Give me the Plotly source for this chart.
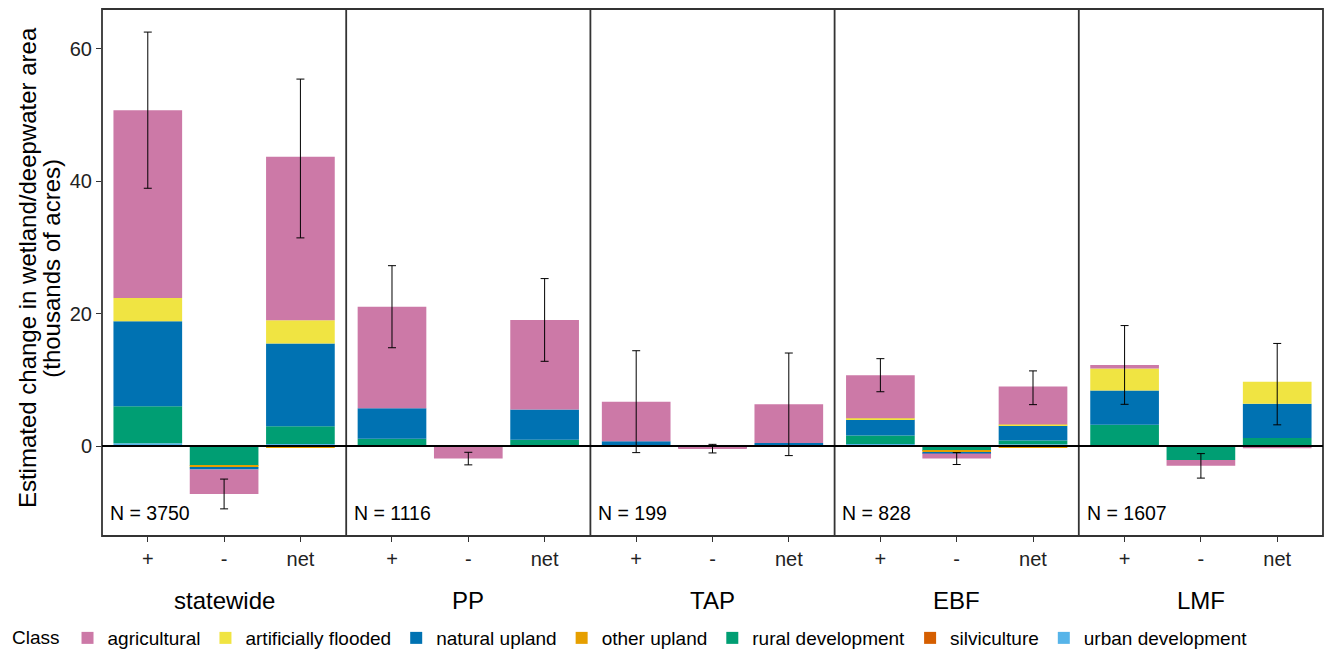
import numpy as np
import plotly.graph_objects as go
from plotly.subplots import make_subplots

# ---------------- data ----------------
regions = ["statewide", "PP", "TAP", "EBF", "LMF"]
n_sites = [3750, 1116, 199, 828, 1607]
changes = ["+", "-", "net"]

classes = ["agricultural", "artificially flooded", "natural upland", "other upland",
           "rural development", "silviculture", "urban development"]
class_colors = ["#CC79A7", "#F0E442", "#0072B2", "#E69F00", "#009E73", "#D55E00", "#56B4E9"]

# values per class, ordered statewide(+,-,net), PP(+,-,net), TAP, EBF, LMF  (thousands of acres)
agricultural = [28.4, -3.7, 24.7,  15.35, -1.8, 13.55,  6.0, -0.15, 5.85,  6.5, -0.75, 5.75,  0.55, -0.9, -0.35]
artificially_flooded = [3.5, 0.0, 3.5,  0.0, 0.0, 0.0,  0.0, 0.0, 0.0,  0.2, 0.0, 0.2,  3.3, 0.0, 3.3]
natural_upland = [12.85, -0.3, 12.5,  4.6, -0.05, 4.55,  0.6, -0.25, 0.35,  2.4, -0.2, 2.2,  5.2, 0.0, 5.2]
other_upland = [0.0, -0.25, -0.25,  0.0, 0.0, 0.0,  0.1, 0.0, 0.1,  0.0, -0.2, -0.2,  0.0, 0.0, 0.0]
rural_development = [5.6, -2.9, 2.7,  1.1, -0.05, 0.95,  0.0, 0.0, 0.0,  1.3, -0.7, 0.6,  3.2, -2.1, 1.2]
silviculture = [0.0, 0.0, 0.0,  0.0, 0.0, 0.0,  0.0, 0.0, 0.0,  0.0, 0.0, 0.0,  0.0, 0.0, 0.0]
urban_development = [0.4, -0.1, 0.3,  0.0, 0.0, 0.0,  0.0, 0.0, 0.0,  0.3, -0.05, 0.25,  0.0, 0.0, 0.0]

# error bar half-widths, same ordering
err_half = [11.8, 2.25, 12.0,  6.2, 0.95, 6.25,  7.7, 0.65, 7.75,  2.5, 0.9, 2.55,  5.95, 1.85, 6.15]

class_values = [agricultural, artificially_flooded, natural_upland, other_upland,
                rural_development, silviculture, urban_development]

# ---------------- figure ----------------
FONT = "Liberation Sans, Arial, Helvetica, sans-serif"
fig = make_subplots(rows=1, cols=5, shared_yaxes=True, horizontal_spacing=0)

# stacking: first-added trace sits nearest zero -> add in reverse class order
for ci in reversed(range(len(classes))):
    vals = class_values[ci]
    for p in range(len(regions)):
        fig.add_trace(
            go.Bar(
                x=changes, y=vals[3 * p:3 * p + 3], name=classes[ci],
                marker=dict(color=class_colors[ci], line=dict(width=0)),
                width=0.9, legendgroup=classes[ci], legendrank=ci + 1,
                showlegend=(p == 0), hoverinfo="skip",
            ),
            row=1, col=p + 1,
        )

totals = np.sum(np.array(class_values), axis=0)
for p in range(len(regions)):
    fig.add_trace(
        go.Scatter(
            x=changes, y=totals[3 * p:3 * p + 3], mode="markers",
            marker=dict(opacity=0, size=1), showlegend=False, hoverinfo="skip",
            error_y=dict(type="data", array=err_half[3 * p:3 * p + 3], visible=True,
                         color="black", thickness=1, width=4),
        ),
        row=1, col=p + 1,
    )

# the page body adds an 8px offset, so the figure is sized to the visible window
fig.update_layout(
    width=1333, height=644,
    margin=dict(l=94, r=18, t=1, b=116, autoexpand=False),
    plot_bgcolor="white", paper_bgcolor="white",
    font=dict(family=FONT, color="black"),
    barmode="relative", bargap=0.1,
    legend=dict(
        orientation="h", xref="container", yref="container",
        x=0.0015, xanchor="left", y=0.0217, yanchor="middle",
        title=dict(text="Class", font=dict(size=19, family=FONT, color="black")),
        font=dict(size=19, family=FONT, color="black"),
        itemwidth=30, traceorder="normal",
    ),
)

for p in range(len(regions)):
    fig.update_xaxes(
        range=[-0.6, 2.6], categoryorder="array", categoryarray=changes,
        ticks="outside", ticklen=5, tickcolor="#333333", tickwidth=1,
        tickfont=dict(size=20, family=FONT, color="#222222"),
        showline=False, showgrid=False, zeroline=False,
        row=1, col=p + 1,
    )
    fig.update_yaxes(range=[-13.6, 66.04], showline=False, showgrid=False, zeroline=False,
                     row=1, col=p + 1)

fig.update_yaxes(tickvals=[0, 20, 40, 60], ticks="outside", ticklen=5, tickcolor="#333333",
                 tickfont=dict(size=20, family=FONT, color="#222222"), row=1, col=1)
for p in range(1, len(regions)):
    fig.update_yaxes(ticks="", showticklabels=False, row=1, col=p + 1)

# panel borders: outer frame plus dividers between facets
BORDER = dict(color="#333333", width=1.8)
fig.add_shape(type="rect", xref="paper", yref="paper", x0=0, x1=1, y0=0, y1=1,
              line=BORDER, fillcolor="rgba(0,0,0,0)", layer="above")
for p in range(1, len(regions)):
    xd = f"x{p + 1} domain"
    fig.add_shape(type="line", xref=xd, yref="paper", x0=0, x1=0, y0=0, y1=1,
                  line=BORDER, layer="above")

# zero reference line across all panels
fig.add_shape(type="line", xref="paper", yref="y", x0=0, x1=1, y0=0, y1=0,
              line=dict(color="black", width=2), layer="above")

# facet labels and N labels
for p, reg in enumerate(regions):
    xd = "x domain" if p == 0 else f"x{p + 1} domain"
    fig.add_annotation(text=reg, xref=xd, x=0.5, yref="paper", y=-0.1233,
                       xanchor="center", yanchor="middle", showarrow=False,
                       font=dict(size=24, family=FONT, color="black"))
    fig.add_annotation(text=f"N = {n_sites[p]}", xref=xd, x=0.024, yref="y", y=-10.1,
                       xanchor="left", yanchor="middle", showarrow=False,
                       font=dict(size=19.5, family=FONT, color="black"))

# y-axis title (two lines, ggplot-like tight spacing)
fig.add_annotation(text="Estimated change in wetland/deepwater area",
                   textangle=-90, xref="paper", x=-0.0614, yref="paper", y=0.5085,
                   xanchor="center", yanchor="middle", showarrow=False,
                   font=dict(size=24, family=FONT, color="black"))
fig.add_annotation(text="(thousands of acres)",
                   textangle=-90, xref="paper", x=-0.042, yref="paper", y=0.5085,
                   xanchor="center", yanchor="middle", showarrow=False,
                   font=dict(size=24, family=FONT, color="black"))

fig.write_html("out.html")
